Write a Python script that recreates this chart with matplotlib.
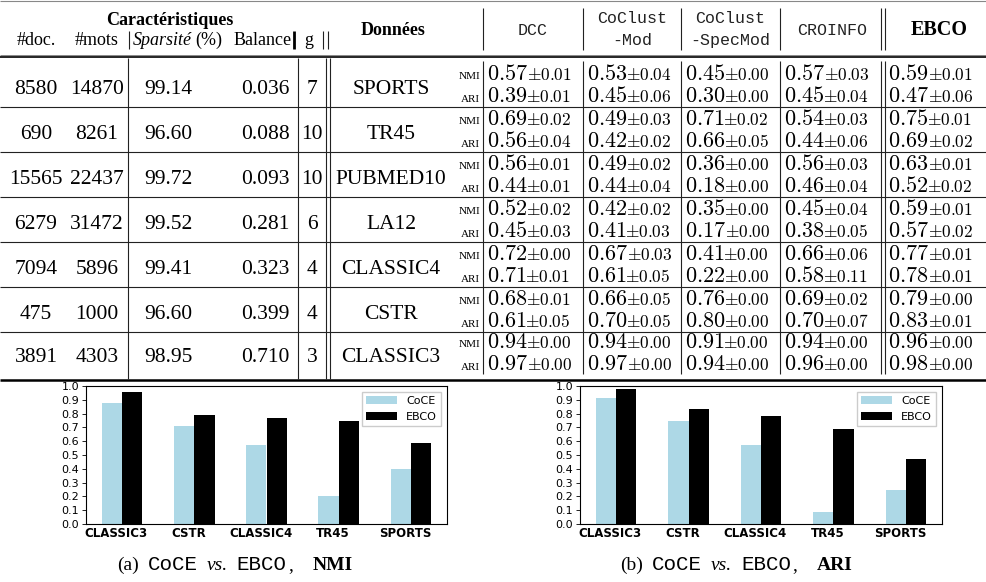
# plot.py
# Tableau des résultats (NMI / ARI) et comparaison CoCE vs EBCO

import matplotlib.pyplot as plt
import numpy as np

plt.rcParams['mathtext.fontset'] = 'cm'  # chiffres du tableau en Computer Modern

SERIF = 'Liberation Serif'
MONO = 'Liberation Mono'
SANS = 'DejaVu Sans'

# -----------------données du tableau
n_doc = ['8580', '690', '15565', '6279', '7094', '475', '3891']
n_mots = ['14870', '8261', '22437', '31472', '5896', '1000', '4303']
sparsite = ['99.14', '96.60', '99.72', '99.52', '99.41', '96.60', '98.95']
balance = ['0.036', '0.088', '0.093', '0.281', '0.323', '0.399', '0.710']
n_g = ['7', '10', '10', '6', '4', '4', '3']
donnees = ['SPORTS', 'TR45', 'PUBMED10', 'LA12', 'CLASSIC4', 'CSTR', 'CLASSIC3']
methodes = ['DCC', 'CoClust\n-Mod', 'CoClust\n-SpecMod', 'CROINFO', 'EBCO']

nmi_moy = [
    ['0.57', '0.69', '0.56', '0.52', '0.72', '0.68', '0.94'],  # DCC
    ['0.53', '0.49', '0.49', '0.42', '0.67', '0.66', '0.94'],  # CoClust-Mod
    ['0.45', '0.71', '0.36', '0.35', '0.41', '0.76', '0.91'],  # CoClust-SpecMod
    ['0.57', '0.54', '0.56', '0.45', '0.66', '0.69', '0.94'],  # CROINFO
    ['0.59', '0.75', '0.63', '0.59', '0.77', '0.79', '0.96'],  # EBCO
]
nmi_std = [
    ['0.01', '0.02', '0.01', '0.02', '0.00', '0.01', '0.00'],
    ['0.04', '0.03', '0.02', '0.02', '0.03', '0.05', '0.00'],
    ['0.00', '0.02', '0.00', '0.00', '0.00', '0.00', '0.00'],
    ['0.03', '0.03', '0.03', '0.04', '0.06', '0.02', '0.00'],
    ['0.01', '0.01', '0.01', '0.01', '0.01', '0.00', '0.00'],
]
ari_moy = [
    ['0.39', '0.56', '0.44', '0.45', '0.71', '0.61', '0.97'],
    ['0.45', '0.42', '0.44', '0.41', '0.61', '0.70', '0.97'],
    ['0.30', '0.66', '0.18', '0.17', '0.22', '0.80', '0.94'],
    ['0.45', '0.44', '0.46', '0.38', '0.58', '0.70', '0.96'],
    ['0.47', '0.69', '0.52', '0.57', '0.78', '0.83', '0.98'],
]
ari_std = [
    ['0.01', '0.04', '0.01', '0.03', '0.01', '0.05', '0.00'],
    ['0.06', '0.02', '0.04', '0.03', '0.05', '0.05', '0.00'],
    ['0.00', '0.05', '0.00', '0.00', '0.00', '0.00', '0.00'],
    ['0.04', '0.06', '0.04', '0.05', '0.11', '0.07', '0.00'],
    ['0.06', '0.02', '0.02', '0.02', '0.01', '0.01', '0.00'],
]

# -----------------données des histogrammes
bar_labels = ['CLASSIC3', 'CSTR', 'CLASSIC4', 'TR45', 'SPORTS']
coce_nmi = [0.88, 0.71, 0.57, 0.20, 0.40]
ebco_nmi = [0.96, 0.79, 0.77, 0.75, 0.59]
coce_ari = [0.91, 0.75, 0.57, 0.09, 0.25]
ebco_ari = [0.98, 0.83, 0.78, 0.69, 0.47]

# -----------------figure (1 unité = 1 pixel)
fig = plt.figure(figsize=(9.86, 5.82), dpi=100)
ax = fig.add_axes([0, 0, 1, 1])
ax.set_xlim(0, 986)
ax.set_ylim(582, 0)
ax.axis('off')
renderer = fig.canvas.get_renderer()


def suite(x, y, morceaux):  # écrit plusieurs textes à la suite sur une même ligne de base
    for texte, opts, ecart in morceaux:
        t = ax.text(x, y, texte, va='baseline', ha='left', **opts)
        x += t.get_window_extent(renderer).width + ecart
    return x


# -----------------traits du tableau
LC = '#222222'
ax.hlines(1, 0, 986, color='#888888', lw=0.8)
ax.hlines(54.5, 0, 986, color='#888888', lw=0.7)
ax.hlines(57, 0, 986, color='black', lw=1.2)
ax.hlines([107, 152, 197, 242, 287, 332], 0, 986, color=LC, lw=0.8)
ax.hlines(380, 0, 986, color='black', lw=1.8)

ax.vlines([128, 298, 326, 330], 58, 379, color=LC, lw=0.8)
ax.vlines([129, 323, 328], 31, 49, color=LC, lw=0.8)
ax.vlines(294, 31, 49, color='black', lw=2.0)

cols_x = [483, 583, 681, 780, 884.5]
ax.vlines(cols_x + [880.5], 61, 374, color=LC, lw=0.8)
ax.vlines(cols_x + [880.5], 8, 50, color=LC, lw=0.8)

# -----------------en-têtes
ax.text(170, 25, 'Caractéristiques', family=SERIF, weight='bold', fontsize=13,
        ha='center', va='baseline')
for lab, xc in [('#doc.', 36), ('#mots', 97), ('Balance', 263), ('g', 309)]:
    ax.text(xc, 45, lab, family=SERIF, fontsize=13, ha='center', va='baseline')
suite(133, 45, [('Sparsité', dict(family=SERIF, style='italic', fontsize=13), 3),
                ('(%)', dict(family=SERIF, fontsize=13), 0)])
ax.text(393, 35, 'Données', family=SERIF, weight='bold', fontsize=13,
        ha='center', va='baseline')

for j, m in enumerate(methodes):
    xc = (cols_x[j] + (cols_x[j + 1] if j < 4 else 996)) / 2
    if m == 'EBCO':
        ax.text(939, 35, m, family=SERIF, weight='bold', fontsize=14.5,
                ha='center', va='baseline')
    elif '\n' in m:
        haut, bas = m.split('\n')
        ax.text(xc, 23, haut, family=MONO, fontsize=12, ha='center', va='baseline', color='#222222')
        ax.text(xc, 45, bas, family=MONO, fontsize=12, ha='center', va='baseline', color='#222222')
    else:
        ax.text(xc, 35, m, family=MONO, fontsize=12, ha='center', va='baseline', color='#222222')

# -----------------corps du tableau
fin_ligne = [107, 152, 197, 242, 287, 332, 375]
for i in range(len(donnees)):
    y_nmi = fin_ligne[i] - 27
    y_ari = fin_ligne[i] - 5
    yb = (y_nmi + y_ari) / 2 + 3
    for val, xc in [(n_doc[i], 36), (n_mots[i], 97), (sparsite[i], 168),
                    (balance[i], 265), (n_g[i], 312), (donnees[i], 391)]:
        ax.text(xc, yb, val, family=SERIF, fontsize=15.5, ha='center', va='baseline')
    ax.text(480, y_nmi - 1, 'NMI', family=SERIF, fontsize=8, ha='right', va='baseline')
    ax.text(480, y_ari, 'ARI', family=SERIF, fontsize=8, ha='right', va='baseline')
    for j, m in enumerate(methodes):
        for moy, std, yv in [(nmi_moy[j][i], nmi_std[j][i], y_nmi),
                             (ari_moy[j][i], ari_std[j][i], y_ari)]:
            princ = r'$\mathbf{%s}$' % moy if m == 'EBCO' else r'$%s$' % moy
            suite(cols_x[j] + 4, yv, [(princ, dict(fontsize=16), -1.5),
                                      (r'$\pm%s$' % std, dict(fontsize=12.5), 0)])


# -----------------histogrammes CoCE vs EBCO
def histo(rect, coce, ebco):
    a = fig.add_axes(rect)
    x = np.arange(len(bar_labels))
    w = 0.28
    a.bar(x - w / 2, coce, w, color='lightblue', label='CoCE')
    a.bar(x + w / 2, ebco, w, color='black', label='EBCO')
    a.set_xlim(-0.5, len(bar_labels) - 0.5)
    a.set_ylim(0, 1.0)
    yt = np.arange(0, 1.01, 0.1)
    a.set_yticks(yt)
    a.set_yticklabels(['%.1f' % v for v in yt], fontsize=8, family=SANS)
    a.set_xticks(x - 0.08)
    a.set_xticklabels(bar_labels, fontsize=8.5, weight='bold', family=SANS)
    a.tick_params(axis='x', length=0, pad=2)
    a.tick_params(axis='y', length=3, width=0.6, pad=2)
    for s in a.spines.values():
        s.set_linewidth(0.8)
    a.legend(loc='upper right', prop=dict(family=SANS, size=8), handlelength=2.8,
             framealpha=1, edgecolor='#cccccc', fancybox=False)
    return a


histo([86 / 986, 58 / 582, 361 / 986, 138 / 582], coce_nmi, ebco_nmi)
histo([580 / 986, 58 / 582, 362 / 986, 138 / 582], coce_ari, ebco_ari)

# -----------------légendes des sous-figures
for x0, lettre, mesure in [(117, '(a)', 'NMI'), (620, '(b)', 'ARI')]:
    suite(x0, 570, [(lettre, dict(family=SERIF, fontsize=14), 9),
                    ('CoCE', dict(family=MONO, fontsize=15), 9),
                    ('vs.', dict(family=SERIF, style='italic', fontsize=14), 9),
                    ('EBCO', dict(family=MONO, fontsize=15), 1),
                    (',', dict(family=SERIF, fontsize=14), 20),
                    (mesure, dict(family=SERIF, weight='bold', fontsize=14), 0)])

fig.savefig('out.png', dpi=100)
